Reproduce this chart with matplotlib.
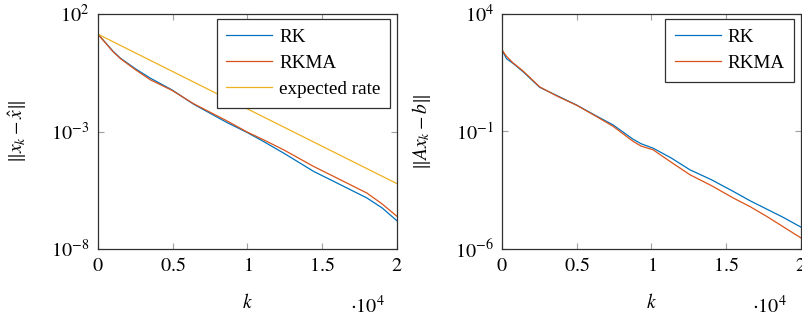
import numpy as np
import matplotlib
matplotlib.use("Agg")
import matplotlib.pyplot as plt

plt.rcParams['font.family'] = ['Liberation Serif', 'DejaVu Serif']
plt.rcParams['mathtext.fontset'] = 'stix'
plt.rcParams['font.size'] = 13

# ---- data (k iterations, log10 of errors) ----
k_left = [0, 500, 1000, 1500, 2500, 3500, 4950, 6400, 8630, 9970, 11000, 12420, 14430, 15760, 17990, 19000, 20000]
log_rk_left = [1.14, 0.78, 0.42, 0.12, -0.33, -0.73, -1.23, -1.84, -2.62, -3.04, -3.40, -3.92, -4.70, -5.12, -5.83, -6.25, -6.80]
log_rkma_left = [1.14, 0.77, 0.40, 0.10, -0.37, -0.80, -1.25, -1.82, -2.55, -3.02, -3.33, -3.78, -4.49, -4.91, -5.62, -6.08, -6.61]
k_rate = [0, 20000]
log_rate = [1.14, -5.22]

k_right = [0, 300, 737, 1400, 2520, 3700, 4980, 6200, 7430, 8770, 9300, 10110, 11300, 12570, 14000, 15470, 16600, 17700, 18800, 20000]
log_rk_right = [2.47, 2.10, 1.90, 1.55, 0.88, 0.52, 0.13, -0.30, -0.72, -1.33, -1.52, -1.71, -2.12, -2.63, -3.05, -3.55, -3.95, -4.30, -4.65, -5.07]
log_rkma_right = [2.47, 2.20, 1.92, 1.58, 0.90, 0.50, 0.12, -0.32, -0.78, -1.42, -1.62, -1.78, -2.30, -2.84, -3.30, -3.83, -4.20, -4.61, -5.05, -5.53]

x_ticks = [0, 5000, 10000, 15000, 20000]
x_ticklabels = ['0', '0.5', '1', '1.5', '2']

BLUE = '#0072BD'
ORANGE = '#D95319'
YELLOW = '#EDB120'

TICK_FS = 14.5
LAB_FS = 14
LEG_FS = 13.8

fig = plt.figure(figsize=(8.03, 3.21), dpi=100)
axL = fig.add_axes([98/803, 1-249/321, 299/803, 235/321])
axR = fig.add_axes([502/803, 1-249/321, 299/803, 235/321])

def style(ax):
    ax.set_yscale('log')
    ax.set_xlim(0, 20000)
    ax.set_xticks(x_ticks)
    ax.set_xticklabels(['$' + t + '$' for t in x_ticklabels])
    ax.tick_params(which='major', direction='in', length=4.5, width=0.8,
                   color='#a0a0a0', top=True, right=True, labelsize=TICK_FS, pad=6)
    for s in ax.spines.values():
        s.set_linewidth(0.9)
        s.set_color('#303030')

def legend(ax):
    leg = ax.legend(loc='upper right', bbox_to_anchor=(0.977, 0.979), fancybox=False, framealpha=1,
                    edgecolor='#303030', handlelength=2.4, borderpad=0.5, labelspacing=0.45,
                    handletextpad=0.35, fontsize=LEG_FS, borderaxespad=0)
    leg.get_frame().set_linewidth(0.9)

# left
axL.plot(k_left, 10**np.array(log_rk_left), color=BLUE, lw=0.9, label='RK')
axL.plot(k_left, 10**np.array(log_rkma_left), color=ORANGE, lw=0.9, label='RKMA')
axL.plot(k_rate, 10**np.array(log_rate), color=YELLOW, lw=0.9, label='expected rate')
style(axL)
axL.set_ylim(1e-8, 1e2)
axL.set_yticks([1e-8, 1e-3, 1e2])
axL.set_yticklabels([r'$10^{-8}$', r'$10^{-3}$', r'$10^{2}$'])
axL.minorticks_off()
axL.set_ylabel(r'$\|x_k-\hat{x}\|$', fontsize=LAB_FS, labelpad=16)
axL.set_xlabel(r'$k$', fontsize=LAB_FS, labelpad=12)
axL.text(0.90, -0.245, r'$\cdot 10^{4}$', transform=axL.transAxes, ha='center', va='center', fontsize=TICK_FS)
legend(axL)

# right
axR.plot(k_right, 10**np.array(log_rk_right), color=BLUE, lw=0.9, label='RK')
axR.plot(k_right, 10**np.array(log_rkma_right), color=ORANGE, lw=0.9, label='RKMA')
style(axR)
axR.set_ylim(1e-6, 1e4)
axR.set_yticks([1e-6, 1e-1, 1e4])
axR.set_yticklabels([r'$10^{-6}$', r'$10^{-1}$', r'$10^{4}$'])
axR.minorticks_off()
axR.set_ylabel(r'$\|Ax_k-b\|$', fontsize=LAB_FS, labelpad=16)
axR.set_xlabel(r'$k$', fontsize=LAB_FS, labelpad=12)
axR.text(0.896, -0.245, r'$\cdot 10^{4}$', transform=axR.transAxes, ha='center', va='center', fontsize=TICK_FS)
legend(axR)

fig.savefig('out.png', dpi=100)
